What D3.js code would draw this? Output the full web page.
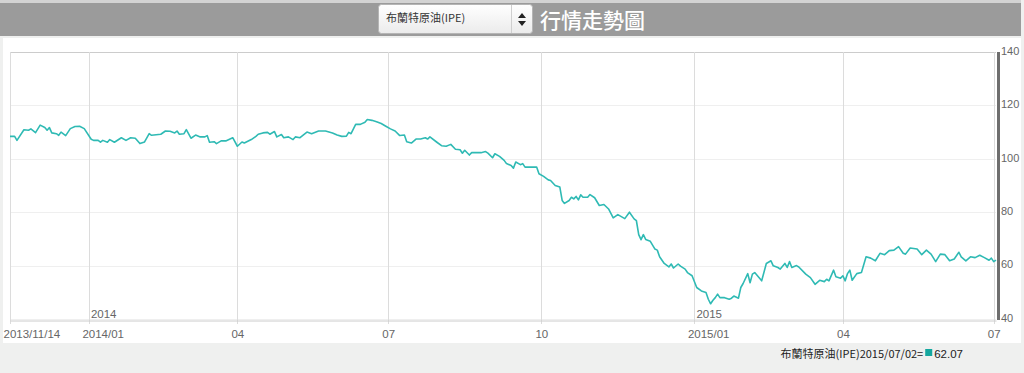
<!DOCTYPE html>
<html>
<head>
<meta charset="utf-8">
<script src="https://cdn.jsdelivr.net/npm/d3@7"></script>
<style>
  body { margin: 0; background: #eff0ef; }
  svg { display: block; }
</style>
</head>
<body>
<div id="chart"></div>
<script>
// Series name and the daily closes
var seriesName = "布蘭特原油(IPE)";
var titleText = "行情走勢圖";

var dates = [
  "2013-11-14","2013-11-18","2013-11-19","2013-11-22","2013-11-26","2013-11-27","2013-11-29",
  "2013-12-03","2013-12-05","2013-12-06","2013-12-09","2013-12-10","2013-12-12","2013-12-13",
  "2013-12-16","2013-12-18","2013-12-20","2013-12-24","2013-12-26","2013-12-30",
  "2014-01-02","2014-01-03","2014-01-07","2014-01-08","2014-01-09","2014-01-13","2014-01-14",
  "2014-01-16","2014-01-21","2014-01-23","2014-01-27","2014-01-29","2014-01-31",
  "2014-02-04","2014-02-06","2014-02-07","2014-02-13","2014-02-17","2014-02-19","2014-02-21",
  "2014-02-24","2014-02-25","2014-02-27","2014-02-28",
  "2014-03-04","2014-03-06","2014-03-10","2014-03-12","2014-03-13","2014-03-14","2014-03-18",
  "2014-03-19","2014-03-21","2014-03-25","2014-03-28",
  "2014-04-01","2014-04-03","2014-04-04","2014-04-09","2014-04-11","2014-04-14","2014-04-16",
  "2014-04-18","2014-04-21","2014-04-23","2014-04-24","2014-04-28","2014-04-29",
  "2014-05-01","2014-05-05","2014-05-06","2014-05-08","2014-05-13","2014-05-15","2014-05-20",
  "2014-05-23","2014-05-28","2014-05-30",
  "2014-06-03","2014-06-05","2014-06-06","2014-06-09","2014-06-11","2014-06-13","2014-06-17",
  "2014-06-18","2014-06-20","2014-06-24","2014-06-26","2014-06-30",
  "2014-07-02","2014-07-04","2014-07-08","2014-07-10","2014-07-11","2014-07-15","2014-07-17",
  "2014-07-21","2014-07-23","2014-07-24","2014-07-25","2014-07-30",
  "2014-08-01","2014-08-05","2014-08-07","2014-08-11","2014-08-13","2014-08-14","2014-08-15",
  "2014-08-19","2014-08-20","2014-08-26","2014-08-28","2014-08-29",
  "2014-09-02","2014-09-03","2014-09-05","2014-09-09","2014-09-10","2014-09-12","2014-09-15",
  "2014-09-16","2014-09-18","2014-09-19","2014-09-22","2014-09-29","2014-09-30",
  "2014-10-02","2014-10-06","2014-10-07","2014-10-09","2014-10-13","2014-10-14","2014-10-15",
  "2014-10-17","2014-10-20","2014-10-21","2014-10-22","2014-10-23","2014-10-24","2014-10-27",
  "2014-10-29","2014-10-30",
  "2014-11-03","2014-11-05","2014-11-07","2014-11-11","2014-11-13","2014-11-17","2014-11-20",
  "2014-11-24","2014-11-26","2014-11-27","2014-11-28",
  "2014-12-01","2014-12-02","2014-12-03","2014-12-05","2014-12-09","2014-12-10","2014-12-11",
  "2014-12-15","2014-12-17","2014-12-18","2014-12-19","2014-12-23","2014-12-24","2014-12-26",
  "2014-12-29","2014-12-31",
  "2015-01-02","2015-01-06","2015-01-08","2015-01-09","2015-01-12","2015-01-13","2015-01-14",
  "2015-01-15","2015-01-16","2015-01-20","2015-01-22","2015-01-23","2015-01-26","2015-01-28",
  "2015-01-29","2015-01-30",
  "2015-02-03","2015-02-04","2015-02-05","2015-02-06","2015-02-11","2015-02-13","2015-02-17",
  "2015-02-18","2015-02-20","2015-02-23","2015-02-25","2015-02-26","2015-02-27",
  "2015-03-02","2015-03-04","2015-03-05","2015-03-10","2015-03-12","2015-03-16","2015-03-18",
  "2015-03-20","2015-03-23","2015-03-24","2015-03-26","2015-03-27","2015-03-31",
  "2015-04-01","2015-04-02","2015-04-03","2015-04-06","2015-04-07","2015-04-09","2015-04-13",
  "2015-04-15","2015-04-17","2015-04-21","2015-04-23","2015-04-27","2015-04-29",
  "2015-05-01","2015-05-05","2015-05-07","2015-05-08","2015-05-12","2015-05-15","2015-05-19",
  "2015-05-21","2015-05-25","2015-05-27","2015-05-29",
  "2015-06-02","2015-06-04","2015-06-08","2015-06-10","2015-06-11","2015-06-15","2015-06-17",
  "2015-06-19","2015-06-23","2015-06-25","2015-06-29","2015-06-30",
  "2015-07-01","2015-07-02"
];

var prices = [
  108.4,108.4,106.9,110.9,110.7,111.2,109.8,
  112.6,111.7,110.7,111.7,109.7,109.4,108.8,
  110.0,108.7,111.3,112.1,112.2,111.3,
  107.3,106.9,106.9,106.2,106.9,106.2,107.2,
  106.2,107.9,106.9,107.9,107.7,105.7,
  106.3,109.4,108.8,109.2,110.4,110.3,109.7,
  110.4,109.2,109.4,110.9,
  107.7,108.9,108.2,108.2,108.7,106.2,106.4,
  105.7,106.7,106.7,107.9,
  104.7,106.3,105.9,107.2,108.4,109.2,109.7,
  109.9,109.2,110.2,108.2,109.1,107.9,
  108.2,107.2,108.2,107.9,110.0,109.4,110.4,
  110.4,109.7,108.9,
  108.4,108.5,109.9,109.4,112.9,112.9,113.7,
  114.7,114.4,113.9,113.2,112.2,
  111.2,110.4,108.7,108.9,106.4,105.9,107.4,
  107.4,107.9,107.4,108.2,106.2,
  104.9,104.7,105.4,103.6,103.4,102.1,103.2,
  101.4,102.3,102.3,102.7,102.1,
  100.4,101.9,100.9,99.4,98.2,97.5,96.5,
  98.8,97.8,98.2,96.9,96.9,94.4,
  93.4,92.1,91.9,90.0,89.4,84.4,83.3,
  84.4,85.6,85.0,85.9,84.6,86.5,85.6,
  85.6,86.6,
  85.4,82.5,82.9,81.2,77.9,79.1,77.6,
  80.0,77.5,76.8,71.6,
  69.7,71.6,69.8,69.1,66.2,65.8,63.3,
  60.8,59.5,60.6,59.1,60.6,59.8,58.7,
  57.4,56.2,
  51.8,50.5,49.9,47.4,45.7,47.0,48.0,
  49.3,48.0,48.0,47.4,47.8,48.6,47.8,
  51.8,53.3,
  57.0,53.6,56.8,57.4,54.3,60.8,61.8,
  59.9,59.3,58.7,60.8,59.3,61.5,
  59.3,60.0,59.5,56.8,55.5,53.0,54.5,
  54.0,54.9,54.3,58.3,55.8,55.3,
  56.2,54.3,57.0,58.3,54.5,57.0,57.4,
  63.3,62.8,61.8,64.6,64.1,65.6,
  65.8,67.1,64.6,64.3,66.6,66.2,64.1,
  65.8,64.3,61.5,64.3,
  64.1,61.8,62.5,65.0,63.3,61.8,63.3,
  63.0,63.9,63.0,62.0,62.8,
  61.5,62.07
];

// Axis ticks
var tickDates = ["2013-11-14","2014-01-01","2014-04-01","2014-07-01","2014-10-01","2015-01-01","2015-04-01","2015-07-01"];
var tickLabels = ["2013/11/14","2014/01","04","07","10","2015/01","04","07"];
var yearDates = ["2014-01-01","2015-01-01"];
var yearLabels = ["2014","2015"];
var yTicks = [40, 60, 80, 100, 120, 140];

// Define SVG area dimensions
var svgWidth = 1024;
var svgHeight = 373;

var plot = { left: 10, right: 996, top: 52, bottom: 319 };
var lineColor = "#2fbab4";
var labelFont = "'Liberation Sans', Arial, sans-serif";
var cjkFont = "'Noto Sans CJK TC', 'Liberation Sans', sans-serif";

var parseDate = d3.timeParse("%Y-%m-%d");
var formatDate = d3.timeFormat("%Y/%m/%d");
var startDate = parseDate(dates[0]);

// ordinal (trading day) position: weekdays are counted, weekends skipped
function tradingIndex(date) {
  return d3.timeDay.range(startDate, date).filter(function(d) {
    return d.getDay() !== 0 && d.getDay() !== 6;
  }).length;
}

var data = dates.map(function(d, i) {
  var dt = parseDate(d);
  return { date: dt, idx: tradingIndex(dt), value: prices[i] };
});

var lastIdx = data[data.length - 1].idx;

var xScale = d3.scaleLinear()
  .domain([0, lastIdx])
  .range([plot.left, plot.right]);

var yScale = d3.scaleLinear()
  .domain([40, 140])
  .range([plot.bottom, plot.top]);

var svg = d3.select("#chart")
  .append("svg")
  .attr("width", svgWidth)
  .attr("height", svgHeight);

// Header bar
svg.append("rect")
  .attr("x", 0).attr("y", 0)
  .attr("width", 1021).attr("height", 36)
  .attr("fill", "#9b9b9b");
svg.append("rect")
  .attr("x", 0).attr("y", 0)
  .attr("width", 1021).attr("height", 3)
  .attr("fill", "#d3d3d3");

var grad = svg.append("defs").append("linearGradient")
  .attr("id", "selGrad")
  .attr("x1", 0).attr("y1", 0).attr("x2", 0).attr("y2", 1);
grad.append("stop").attr("offset", "0%").attr("stop-color", "#ffffff");
grad.append("stop").attr("offset", "100%").attr("stop-color", "#ebebeb");

svg.append("rect")
  .attr("x", 378.5).attr("y", 4.5)
  .attr("width", 154).attr("height", 29)
  .attr("rx", 3)
  .attr("fill", "url(#selGrad)")
  .attr("stroke", "#b5b5b5");
svg.append("line")
  .attr("x1", 511.5).attr("x2", 511.5)
  .attr("y1", 5).attr("y2", 33)
  .attr("stroke", "#cfcfcf");
svg.append("path")
  .attr("d", "M518,18 L522,13 L526,18 Z M518,21 L522,26 L526,21 Z")
  .attr("fill", "#222");
svg.append("text")
  .attr("x", 386).attr("y", 22)
  .attr("font-family", cjkFont)
  .attr("font-size", "11px")
  .attr("fill", "#333")
  .text(seriesName);
svg.append("text")
  .attr("x", 540).attr("y", 28)
  .attr("font-family", cjkFont)
  .attr("font-size", "21px")
  .attr("font-weight", 500)
  .attr("fill", "#ffffff")
  .text(titleText);

// White chart panel
svg.append("rect")
  .attr("x", 3).attr("y", 38)
  .attr("width", 1018).attr("height", 305)
  .attr("fill", "#ffffff");

// horizontal gridlines
svg.append("g")
  .selectAll("line")
  .data(yTicks)
  .enter()
  .append("line")
  .attr("x1", plot.left).attr("x2", plot.right)
  .attr("y1", d => Math.round(yScale(d)) + 0.5)
  .attr("y2", d => Math.round(yScale(d)) + 0.5)
  .attr("stroke", d => d === 140 ? "#cccccc" : "#efefef");

// vertical gridlines + tick marks
var tickIdx = tickDates.map(d => tradingIndex(parseDate(d)));
svg.append("g")
  .selectAll("line")
  .data(tickIdx)
  .enter()
  .append("line")
  .attr("x1", d => Math.round(xScale(d)) + 0.5)
  .attr("x2", d => Math.round(xScale(d)) + 0.5)
  .attr("y1", plot.top)
  .attr("y2", plot.bottom + 5)
  .attr("stroke", "#dcdcdc");

// bottom axis
var bottomAxis = d3.axisBottom(xScale)
  .tickValues(tickIdx)
  .tickSize(0)
  .tickPadding(0)
  .tickFormat((d, i) => tickLabels[i]);

var xAxisGroup = svg.append("g")
  .attr("transform", `translate(0, ${plot.bottom + 1.5})`)
  .call(bottomAxis);
xAxisGroup.select(".domain").attr("stroke", "#cccccc");
xAxisGroup.selectAll("text")
  .attr("font-family", labelFont)
  .attr("font-size", "11.5px")
  .attr("fill", "#666")
  .attr("y", 17)
  .attr("dy", 0)
  .attr("text-anchor", (d, i) => tickLabels[i].indexOf("/") >= 0 ? "start" : "middle")
  .attr("dx", (d, i) => tickLabels[i].indexOf("/") >= 0 ? -7 : 0);

// year labels inside plot
svg.append("g")
  .selectAll("text")
  .data(yearDates)
  .enter()
  .append("text")
  .attr("x", d => xScale(tradingIndex(parseDate(d))) + 2)
  .attr("y", plot.bottom - 1)
  .attr("font-family", labelFont)
  .attr("font-size", "11.5px")
  .attr("fill", "#666")
  .text((d, i) => yearLabels[i]);

// right axis bar and labels
svg.append("rect")
  .attr("x", plot.right + 1)
  .attr("y", plot.top)
  .attr("width", 3)
  .attr("height", plot.bottom - plot.top + 1)
  .attr("fill", "#6e6e6e");

svg.append("g")
  .selectAll("text")
  .data(yTicks)
  .enter()
  .append("text")
  .attr("x", plot.right + 5)
  .attr("y", d => yScale(d) - 1)
  .attr("dy", "0.35em")
  .attr("font-family", labelFont)
  .attr("font-size", "11px")
  .attr("fill", "#666")
  .text(d => d);

// price line
var line = d3.line()
  .x(d => xScale(d.idx))
  .y(d => yScale(d.value));

svg.append("path")
  .datum(data)
  .attr("d", line)
  .attr("fill", "none")
  .attr("stroke", lineColor)
  .attr("stroke-width", 1.6)
  .attr("stroke-linejoin", "round");

// legend with the last close
var last = data[data.length - 1];
var valText = svg.append("text")
  .attr("x", 963).attr("y", 358)
  .attr("text-anchor", "end")
  .attr("font-family", labelFont)
  .attr("font-size", "11.5px")
  .attr("fill", "#222")
  .text(last.value.toFixed(2));
var valWidth = valText.node().getComputedTextLength();

svg.append("rect")
  .attr("x", 963 - valWidth - 9)
  .attr("y", 349)
  .attr("width", 7).attr("height", 7)
  .attr("fill", "#14a79f");

svg.append("text")
  .attr("x", 963 - valWidth - 11).attr("y", 358)
  .attr("text-anchor", "end")
  .attr("font-family", cjkFont)
  .attr("font-size", "11px")
  .attr("fill", "#222")
  .text(seriesName + formatDate(last.date) + "=");
</script>
</body>
</html>
